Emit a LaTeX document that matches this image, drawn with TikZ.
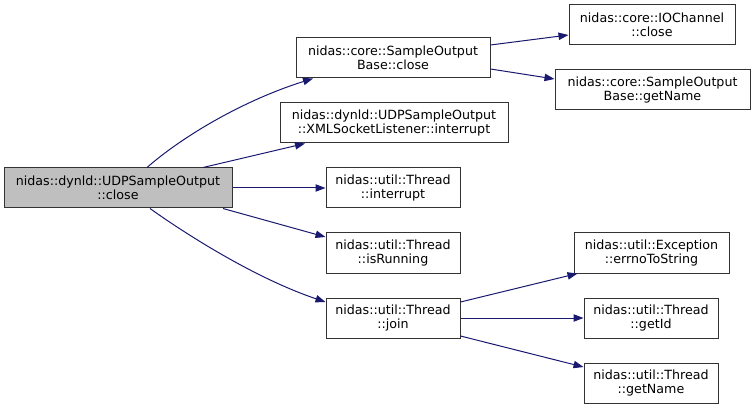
\documentclass[tikz,border=0pt]{standalone}
\usepackage{fontspec}
\setmainfont{DejaVu Sans}
\usetikzlibrary{arrows.meta,calc}
\definecolor{edgeblue}{HTML}{191970}
\definecolor{maingray}{HTML}{BFBFBF}
\tikzset{
  box/.style={draw=black!80, line width=0.75pt, fill=white, inner sep=0pt,
    minimum height=30pt, align=center,
    font=\fontsize{9.5}{10.5}\selectfont},
  bw/.style={minimum width={#1*0.75pt}},
  edge/.style={draw=edgeblue, line width=0.75pt,
    -{Triangle[length=7.5pt,width=5.5pt]}, fill=none}
}
\begin{document}
\begin{tikzpicture}[x=0.75pt,y=-0.75pt]
\useasboundingbox (0,0) rectangle (755,409);
% nodes
\node[box,bw=228,fill=maingray] (main) at (118,188) {nidas::dynld::UDPSampleOutput\\::close};
\node[box,bw=194] (sobc) at (393,58) {nidas::core::SampleOutput\\Base::close};
\node[box,bw=228] (xml) at (394,123) {nidas::dynld::UDPSampleOutput\\::XMLSocketListener::interrupt};
\node[box,bw=134] (tint) at (393,188) {nidas::util::Thread\\::interrupt};
\node[box,bw=134] (trun) at (393,253) {nidas::util::Thread\\::isRunning};
\node[box,bw=134] (join) at (393,318) {nidas::util::Thread\\::join};
\node[box,bw=166] (ioc) at (652,25) {nidas::core::IOChannel\\::close};
\node[box,bw=195] (sgn) at (652.5,90) {nidas::core::SampleOutput\\Base::getName};
\node[box,bw=155] (errno) at (651.5,253) {nidas::util::Exception\\::errnoToString};
\node[box,bw=134] (getid) at (651,318) {nidas::util::Thread\\::getId};
\node[box,bw=134] (tgn) at (651,383) {nidas::util::Thread\\::getName};
% edges
\draw[edge] ($(main.north)+(29,0)$) .. controls +(33,-29) and +(-73,23) .. ($(sobc.south)+(-80,0)$);
\draw[edge] ($(main.north)+(85,0)$) -- ($(xml.south)+(-89,0)$);
\draw[edge] (main.east) -- (tint.west);
\draw[edge] ($(main.south)+(105,0)$) -- ($(trun.west)+(0,-16)$);
\draw[edge] ($(main.south)+(32,0)$) .. controls +(35,25) and +(-71,-24) .. ($(join.west)+(0,-16)$);
\draw[edge] ($(sobc.east)+(0,-13)$) -- ($(ioc.west)+(0,10)$);
\draw[edge] ($(sobc.east)+(0,11)$) -- ($(sgn.west)+(0,-11)$);
\draw[edge] ($(join.east)+(0,-16)$) -- ($(errno.south west)+(4,0)$);
\draw[edge] (join.east) -- (getid.west);
\draw[edge] ($(join.east)+(0,18)$) -- ($(tgn.west)+(0,-16)$);
\end{tikzpicture}
\end{document}
